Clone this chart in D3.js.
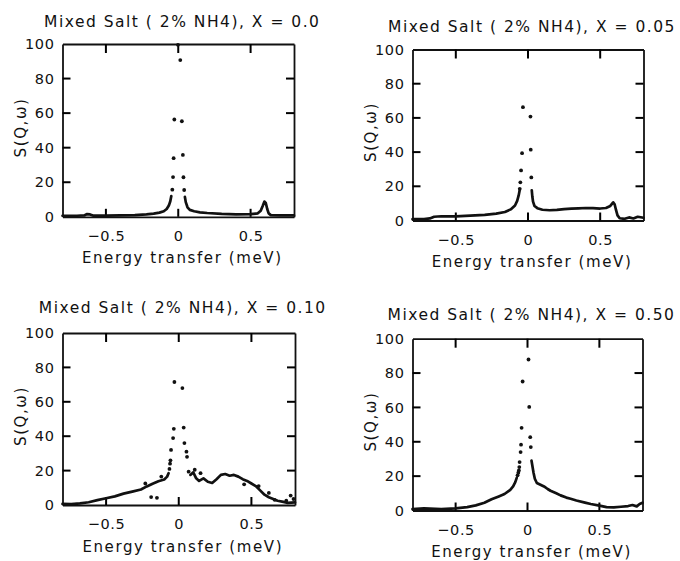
<!DOCTYPE html>
<html>
<head>
<meta charset="utf-8">
<script src="https://cdn.jsdelivr.net/npm/d3@7"></script>
<style>
  body { margin: 0; background: #fff; }
  svg text { font-family: "DejaVu Sans", sans-serif; fill: #111; }
</style>
</head>
<body>
<svg id="chart" width="680" height="561"></svg>
<script>
// tick values shared by the four panels
var xTicks = [-0.5, 0, 0.5];
var yTicks = [0, 20, 40, 60, 80, 100];
var yInner = [20, 40, 60, 80];

var titles = [
  "Mixed Salt ( 2% NH4), X = 0.0",
  "Mixed Salt ( 2% NH4), X = 0.05",
  "Mixed Salt ( 2% NH4), X = 0.10",
  "Mixed Salt ( 2% NH4), X = 0.50"
];

// dense part of each spectrum (null = gap under the elastic peak)
var p1TraceE = [-0.80,-0.70,-0.65,-0.63,-0.61,-0.59,-0.50,-0.40,-0.30,-0.22,-0.17,-0.13,-0.10,-0.08,-0.065,-0.055,-0.048,
  0, 0.046,0.052,0.064,0.08,0.11,0.15,0.20,0.30,0.40,0.50,0.55,0.57,0.585,0.595,0.605,0.615,0.625,0.64,0.70,0.80];
var p1TraceS = [0.6,0.6,0.8,1.6,1.4,0.7,0.7,0.8,1.0,1.4,1.8,2.4,3.2,4.5,6.5,9.0,12.0,
  null, 11.5,8.5,5.5,4.0,3.2,2.6,2.2,1.7,1.4,1.5,2.0,3.5,6.5,8.8,8.0,4.5,2.0,1.0,0.8,0.8];
// isolated points on the elastic peak
var p1DotE = [-0.041,-0.036,-0.032,-0.027,-0.002,0.014,0.025,0.032,0.036,0.041];
var p1DotS = [15.7,23.0,33.9,56.3,99.5,90.7,55.3,35.8,22.9,15.5];

var p2TraceE = [-0.80,-0.72,-0.68,-0.65,-0.60,-0.50,-0.40,-0.30,-0.22,-0.16,-0.12,-0.09,-0.075,-0.065,-0.058,
  0, 0.026,0.030,0.035,0.045,0.065,0.10,0.15,0.20,0.25,0.30,0.35,0.40,0.45,0.50,0.54,0.57,0.59,0.60,0.61,0.62,0.635,0.67,0.70,0.73,0.76,0.80];
var p2TraceS = [0.8,0.8,1.2,2.2,2.5,2.4,2.8,3.3,4.0,5.0,6.5,8.8,11.5,14.5,17.5,
  null, 17.7,14.0,11.0,8.5,7.2,6.3,6.0,6.2,6.6,6.9,7.1,7.3,7.2,7.0,7.3,8.5,10.6,9.5,6.0,3.0,1.3,1.0,1.8,1.2,2.2,1.6];
var p2DotE = [-0.057,-0.053,-0.048,-0.041,-0.035,0.017,0.019,0.023];
var p2DotS = [18.5,22.3,29.3,39.4,66.3,60.8,41.4,25.2];

var p3TraceE = [-0.80,-0.74,-0.68,-0.62,-0.56,-0.50,-0.44,-0.38,-0.32,-0.26,-0.22,-0.18,-0.14,-0.10,-0.08,-0.07,
  0, 0.08,0.10,0.12,0.14,0.17,0.20,0.23,0.26,0.29,0.32,0.35,0.38,0.41,0.44,0.47,0.50,0.53,0.56,0.59,0.62,0.65,0.68,0.72,0.75,0.80];
var p3TraceS = [0.6,0.5,0.9,1.6,2.8,3.9,5.0,6.6,7.8,9.0,10.8,12.4,13.8,14.8,16.5,18.5,
  null, 17.5,19.0,15.5,14.0,15.5,13.5,12.8,15.0,17.5,18.0,17.0,17.5,16.5,15.0,14.0,12.5,11.0,8.5,6.0,4.5,3.5,2.5,1.8,1.2,1.5];
var p3DotE = [-0.064,-0.060,-0.057,-0.053,-0.039,-0.034,-0.030,0.025,0.034,0.039,0.053,0.057,0.068,
  -0.23,-0.19,-0.15,-0.12,0.11,0.15,0.45,0.55,0.62,0.66,0.74,0.77,0.79];
var p3DotS = [21,24,26,32,38.9,44.3,71.5,68,45,36,31,28,19.4,
  12.5,4.6,4.2,16.5,20.5,18.5,12,11,7,3,2.5,5.5,3.5];

var p4TraceE = [-0.80,-0.72,-0.60,-0.50,-0.42,-0.36,-0.30,-0.25,-0.20,-0.16,-0.12,-0.10,-0.085,-0.075,
  0, 0.028,0.035,0.042,0.051,0.065,0.09,0.115,0.14,0.16,0.20,0.23,0.27,0.30,0.34,0.40,0.44,0.50,0.55,0.60,0.65,0.70,0.73,0.76,0.78,0.80];
var p4TraceS = [0.8,1.2,0.8,1.2,2.0,3.0,4.5,6.5,8.2,9.6,12.0,14.0,16.5,19.0,
  null, 29.0,25.5,22.0,18.5,16.0,15.0,14.0,12.5,11.5,10.0,8.8,7.5,6.8,5.8,4.6,3.8,2.8,2.0,1.8,2.2,2.6,3.2,2.4,3.8,4.5];
var p4DotE = [-0.069,-0.064,-0.060,-0.057,-0.055,-0.048,-0.045,-0.041,-0.034,0.007,0.012,0.019,0.023];
var p4DotS = [20.5,22,23.3,25.3,28.2,34,38.3,48.1,75.1,87.9,60.3,42.7,36.9];

// frame of each panel on the page
var layout = [
  { l: 62.5,  r: 294,   t: 44,    b: 216.8, ty: 27 },
  { l: 412.5, r: 643.5, t: 49.5,  b: 220.5, ty: 31.7 },
  { l: 62.5,  r: 295,   t: 333,   b: 505,   ty: 313.3 },
  { l: 412.5, r: 642.5, t: 338.7, b: 510.5, ty: 320 }
];
var traces = [[p1TraceE, p1TraceS], [p2TraceE, p2TraceS], [p3TraceE, p3TraceS], [p4TraceE, p4TraceS]];
var dots = [[p1DotE, p1DotS], [p2DotE, p2DotS], [p3DotE, p3DotS], [p4DotE, p4DotS]];

var svg = d3.select("#chart");
var fmt = d3.format("~g");

layout.forEach(function(p, i) {
  var x = d3.scaleLinear().domain([-0.8, 0.8]).range([p.l, p.r]);
  var y = d3.scaleLinear().domain([0, 100]).range([p.b, p.t]);
  var g = svg.append("g");
  var cx = (p.l + p.r) / 2;

  // axes give the box edges and the labels
  var bottom = g.append("g").attr("transform", `translate(0,${p.b})`)
    .call(d3.axisBottom(x).tickValues(xTicks).tickSize(0).tickPadding(14).tickFormat(fmt));
  var topAxis = g.append("g").attr("transform", `translate(0,${p.t})`)
    .call(d3.axisTop(x).tickValues(xTicks).tickSize(0).tickFormat(""));
  var left = g.append("g").attr("transform", `translate(${p.l},0)`)
    .call(d3.axisLeft(y).tickValues(yTicks).tickSize(0).tickPadding(8).tickFormat(fmt));
  var right = g.append("g").attr("transform", `translate(${p.r},0)`)
    .call(d3.axisRight(y).tickValues(yTicks).tickSize(0).tickFormat(""));

  [bottom, topAxis, left, right].forEach(function(a) {
    a.select(".domain").attr("stroke", "#111").attr("stroke-width", 1.8);
    a.selectAll("text").attr("font-size", 14.5).attr("letter-spacing", 0.6)
      .attr("font-family", "DejaVu Sans").attr("fill", "#111");
  });

  // inward tick marks on all four sides
  var ticks = g.append("g");
  function tick(x1, y1, x2, y2) {
    ticks.append("line")
      .attr("x1", x1).attr("y1", y1).attr("x2", x2).attr("y2", y2)
      .attr("stroke", "#000").attr("stroke-width", 2);
  }
  xTicks.forEach(function(v) {
    tick(x(v), p.b, x(v), p.b - 8);
    tick(x(v), p.t, x(v), p.t + 9);
  });
  yInner.forEach(function(v) {
    tick(p.l, y(v), p.l + 8, y(v));
    tick(p.r, y(v), p.r - 8, y(v));
  });

  // spectrum: dense trace drawn as a thick line, peak as dots
  var tE = traces[i][0], tS = traces[i][1];
  var line = d3.line()
    .defined(function(k) { return tS[k] != null; })
    .x(function(k) { return x(tE[k]); })
    .y(function(k) { return y(tS[k]); });
  g.append("path")
    .attr("d", line(d3.range(tE.length)))
    .attr("fill", "none").attr("stroke", "#111")
    .attr("stroke-width", 2.7).attr("stroke-linejoin", "round").attr("stroke-linecap", "round");

  var dE = dots[i][0], dS = dots[i][1];
  g.selectAll("circle.pt").data(d3.range(dE.length)).enter().append("circle")
    .attr("class", "pt")
    .attr("cx", function(k) { return x(dE[k]); })
    .attr("cy", function(k) { return y(dS[k]); })
    .attr("r", 1.9).attr("fill", "#111");

  // texts
  g.append("text").attr("x", cx + 4).attr("y", p.ty)
    .attr("text-anchor", "middle").attr("font-size", 15.5).attr("letter-spacing", 1.5)
    .text(titles[i]);
  g.append("text").attr("x", cx + 4).attr("y", p.b + 46.5)
    .attr("text-anchor", "middle").attr("font-size", 15).attr("letter-spacing", 1.6)
    .text("Energy transfer (meV)");
  g.append("text")
    .attr("transform", `translate(${p.l - 36.5},${(p.t + p.b) / 2 - 3}) rotate(-90)`)
    .attr("text-anchor", "middle").attr("font-size", 15).attr("letter-spacing", 1.6)
    .text("S(Q,ω)");
});
</script>
</body>
</html>
